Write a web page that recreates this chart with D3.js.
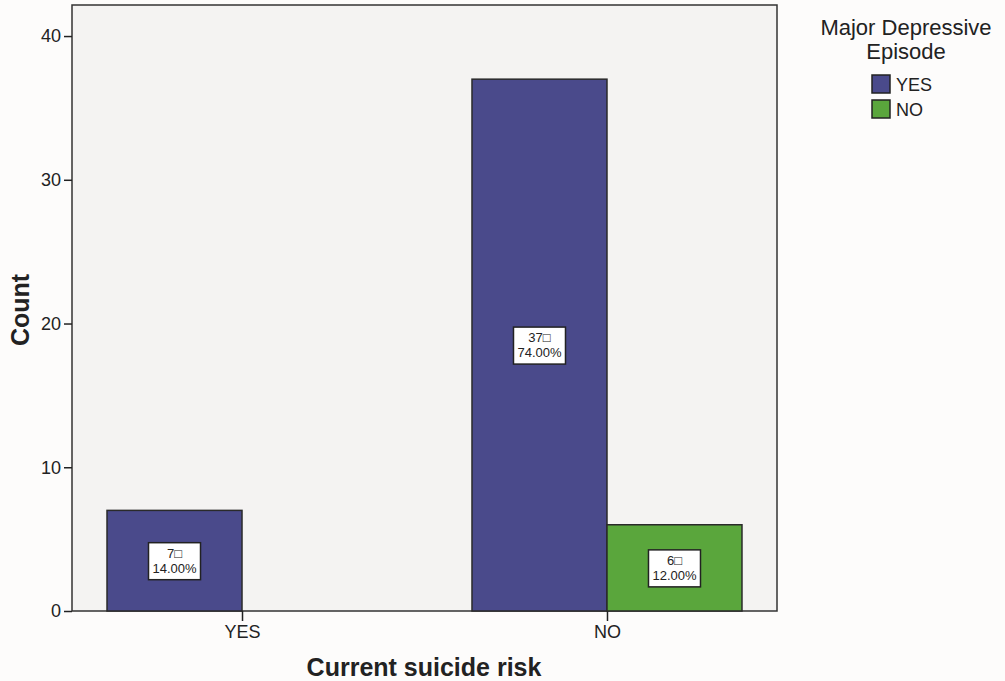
<!DOCTYPE html>
<html><head><meta charset="utf-8">
<script src="https://cdn.jsdelivr.net/npm/d3@7"></script>
<style>body{margin:0;background:#fdfcfb;}svg{display:block;font-family:"Liberation Sans",Arial,sans-serif;}</style>
</head><body>
<svg id="c" width="1005" height="681"></svg>
<script>
const categories = ["YES", "NO"];
const seriesNames = ["YES", "NO"];
const seriesYes = [7, 37];
const seriesNo = [0, 6];
const percentYes = ["14.00%", "74.00%"];
const percentNo = ["", "12.00%"];
const yTicks = [0, 10, 20, 30, 40];
const colors = ["#4a4a8b", "#5aa63c"];

const svg = d3.select("#c");
const L = 72, R = 777, T = 5, B = 611;
const y = d3.scaleLinear().domain([0, 42.16]).range([B, T]);
const x = d3.scalePoint().domain(categories).range([L, R]).padding(0.4658);
const bw = 135;
const xs = d3.scaleBand().domain(seriesNames).range([-bw, bw]);

svg.append("rect").attr("x", L).attr("y", T).attr("width", R - L).attr("height", B - T)
  .attr("fill", "#f4f3f2").attr("stroke", "#333").attr("stroke-width", 1.5);

const data = [];
categories.forEach((c, i) => {
  data.push({c, s: "YES", v: seriesYes[i], p: percentYes[i], col: colors[0]});
  data.push({c, s: "NO", v: seriesNo[i], p: percentNo[i], col: colors[1]});
});
const vis = data.filter(d => d.v > 0);

svg.selectAll("rect.bar").data(vis).enter().append("rect").attr("class", "bar")
  .attr("x", d => x(d.c) + xs(d.s)).attr("width", xs.bandwidth())
  .attr("y", d => y(d.v)).attr("height", d => y(0) - y(d.v))
  .attr("fill", d => d.col).attr("stroke", "#2a2a2a").attr("stroke-width", 1.5);

const lab = svg.selectAll("g.lab").data(vis).enter().append("g").attr("class", "lab")
  .attr("transform", d => `translate(${x(d.c) + xs(d.s) + xs.bandwidth() / 2},${(y(d.v) + y(0)) / 2})`);
lab.append("rect").attr("x", -26).attr("y", -18).attr("width", 52).attr("height", 37)
  .attr("fill", "#fff").attr("stroke", "#222").attr("stroke-width", 1.5);
lab.append("text").attr("text-anchor", "middle").attr("y", -3).attr("font-size", 13).attr("fill", "#222")
  .text(d => d.v + "\u25A1");
lab.append("text").attr("text-anchor", "middle").attr("y", 12).attr("font-size", 13).attr("fill", "#222")
  .text(d => d.p);

const ya = svg.append("g").attr("transform", `translate(${L},0)`)
  .call(d3.axisLeft(y).tickValues(yTicks).tickSize(8).tickPadding(3).tickSizeOuter(0));
ya.select(".domain").remove();
ya.selectAll("line").attr("stroke", "#222").attr("stroke-width", 1.5);
ya.selectAll("text").attr("font-size", 18).attr("fill", "#222").attr("font-family", "Liberation Sans, Arial, sans-serif");

const xa = svg.append("g").attr("transform", `translate(0,${B})`)
  .call(d3.axisBottom(x).tickSize(10).tickPadding(4).tickSizeOuter(0));
xa.select(".domain").remove();
xa.selectAll("line").attr("stroke", "#222").attr("stroke-width", 1.5);
xa.selectAll("text").attr("font-size", 18).attr("fill", "#222").attr("font-family", "Liberation Sans, Arial, sans-serif");

svg.append("text").attr("transform", `translate(29,310) rotate(-90)`).attr("text-anchor", "middle")
  .attr("font-size", 25).attr("font-weight", "bold").attr("fill", "#222").text("Count");
svg.append("text").attr("x", 424).attr("y", 676).attr("text-anchor", "middle")
  .attr("font-size", 25).attr("font-weight", "bold").attr("fill", "#222").text("Current suicide risk");

const lg = svg.append("g");
lg.append("text").attr("x", 906).attr("y", 35).attr("text-anchor", "middle").attr("font-size", 22).attr("fill", "#222").text("Major Depressive");
lg.append("text").attr("x", 906).attr("y", 59).attr("text-anchor", "middle").attr("font-size", 22).attr("fill", "#222").text("Episode");
seriesNames.forEach((s, i) => {
  lg.append("rect").attr("x", 872).attr("y", 75 + i * 25).attr("width", 18).attr("height", 18)
    .attr("fill", colors[i]).attr("stroke", "#222").attr("stroke-width", 1.5);
  lg.append("text").attr("x", 896).attr("y", 91 + i * 25).attr("font-size", 18).attr("fill", "#222").text(s);
});
</script>
</body></html>
